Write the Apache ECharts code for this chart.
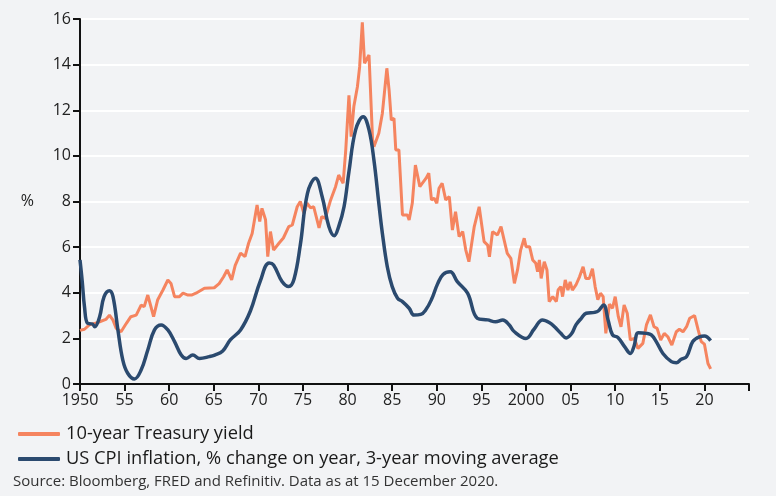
<!DOCTYPE html>
<html>
<head>
<meta charset="utf-8">
<script src="https://cdn.jsdelivr.net/npm/echarts@6/dist/echarts.min.js"></script>
<style>
html,body{margin:0;padding:0;background:#f2f3f5;}
#c{width:776px;height:496px;}
</style>
</head>
<body>
<div id="c"></div>
<script>
// 10-year Treasury yield (%)
var tyYears = [1950.0,1950.5,1951.05,1951.6,1952.2,1952.9,1953.3,1953.7,1954.05,1954.6,1955.2,1955.7,1956.3,1956.85,1957.2,1957.6,1958.0,1958.25,1958.7,1959.3,1959.85,1960.2,1960.6,1961.15,1961.55,1962.1,1962.5,1963.0,1963.95,1965.05,1965.6,1966.1,1966.5,1967.0,1967.4,1968.0,1968.5,1968.9,1969.3,1969.85,1970.15,1970.4,1970.8,1971.05,1971.35,1971.7,1972.3,1972.8,1973.4,1973.8,1974.35,1974.7,1975.1,1975.45,1975.85,1976.2,1976.8,1977.1,1977.5,1978.1,1978.65,1979.0,1979.5,1979.8,1980.15,1980.4,1980.7,1981.1,1981.35,1981.65,1981.9,1982.4,1982.8,1982.95,1983.5,1983.9,1984.4,1984.65,1984.9,1985.2,1985.4,1985.75,1986.15,1986.7,1986.9,1987.25,1987.6,1988.1,1988.8,1989.1,1989.4,1989.7,1990.0,1990.25,1990.6,1991.0,1991.4,1991.75,1992.1,1992.5,1992.9,1993.25,1993.6,1994.2,1994.75,1994.9,1995.3,1995.7,1995.9,1996.25,1996.8,1997.2,1997.55,1997.9,1998.3,1998.7,1999.05,1999.4,1999.8,2000.0,2000.4,2000.75,2001.1,2001.3,2001.5,2001.7,2002.05,2002.35,2002.6,2003.0,2003.4,2003.6,2003.9,2004.1,2004.4,2004.7,2004.95,2005.2,2005.6,2006.0,2006.4,2006.7,2007.1,2007.45,2007.75,2008.05,2008.35,2008.65,2008.95,2009.35,2009.7,2010.0,2010.35,2010.65,2011.0,2011.35,2011.7,2012.15,2012.55,2013.1,2013.5,2013.95,2014.35,2014.7,2015.1,2015.5,2015.9,2016.35,2016.85,2017.2,2017.6,2018.0,2018.35,2018.9,2019.3,2019.65,2020.0,2020.4,2020.7];
var tyValues = [2.35,2.4,2.59,2.65,2.73,2.83,3.02,2.8,2.44,2.29,2.66,2.95,3.02,3.46,3.39,3.9,3.32,2.95,3.68,4.12,4.56,4.41,3.83,3.83,3.98,3.9,3.9,3.98,4.2,4.22,4.4,4.7,5.0,4.56,5.2,5.74,5.58,6.17,6.6,7.85,7.12,7.7,7.2,5.58,6.68,5.87,6.17,6.4,6.9,6.97,7.77,8.0,7.48,7.93,7.72,7.77,6.84,7.34,7.26,8.07,8.65,9.16,8.8,10.3,12.65,10.84,12.16,13.03,13.9,15.85,14.06,14.42,10.7,10.4,10.99,11.87,13.84,12.89,11.57,11.65,10.26,10.26,7.41,7.41,7.19,7.92,9.6,8.65,9.02,9.24,8.07,8.14,7.92,8.58,8.8,8.07,8.21,6.75,7.55,6.46,6.68,5.87,5.36,6.9,7.77,7.85,6.24,6.09,5.58,6.68,6.53,6.9,6.31,5.73,5.51,4.41,5.0,5.87,6.39,6.02,6.02,5.44,5.29,4.92,5.44,4.63,5.36,5.0,3.61,3.83,3.61,4.12,4.27,3.83,4.56,4.12,4.48,4.12,4.34,4.7,5.14,4.63,4.63,5.05,4.27,3.7,3.98,3.83,2.22,3.5,3.32,3.83,2.95,2.51,3.46,3.1,1.93,2.0,1.56,1.78,2.59,3.03,2.51,2.44,1.93,2.22,2.07,1.71,2.29,2.4,2.29,2.51,2.88,3.0,2.37,1.86,1.75,0.9,0.66];

// US CPI inflation, % change on year, 3-year moving average
var cpiYears = [1950.0,1950.25,1950.5,1950.85,1951.4,1951.65,1952.2,1952.7,1953.3,1953.7,1954.25,1954.8,1955.35,1956.1,1956.85,1957.6,1958.35,1959.1,1959.85,1960.6,1961.35,1961.9,1962.65,1963.4,1964.5,1965.1,1966.0,1966.85,1968.0,1969.1,1970.2,1971.2,1971.7,1972.65,1973.4,1974.0,1974.7,1975.5,1976.4,1977.15,1977.9,1978.5,1979.0,1979.6,1980.15,1980.9,1981.75,1982.4,1982.95,1983.5,1983.9,1984.45,1985.0,1985.6,1986.15,1986.9,1987.45,1988.2,1988.75,1989.4,1990.1,1990.7,1991.5,1992.3,1993.45,1994.55,1995.7,1996.6,1997.4,1998.1,1998.7,2000.0,2000.9,2001.85,2002.6,2003.2,2003.9,2004.5,2005.1,2005.6,2006.2,2006.75,2007.7,2008.1,2008.7,2009.2,2009.7,2010.3,2011.05,2011.7,2012.1,2012.6,2013.5,2014.05,2014.6,2015.35,2016.3,2016.85,2017.4,2018.0,2018.7,2019.45,2020.0,2020.7];
var cpiValues = [5.44,4.5,3.4,2.66,2.63,2.51,2.95,3.83,4.09,3.83,2.37,1.05,0.47,0.22,0.61,1.49,2.37,2.59,2.37,1.86,1.27,1.12,1.27,1.12,1.2,1.27,1.45,1.93,2.37,3.2,4.5,5.3,5.22,4.49,4.27,4.6,6.1,8.36,9.02,8.21,6.9,6.5,6.9,7.77,9.3,11.14,11.72,11.14,9.82,7.92,6.6,5.14,4.27,3.76,3.61,3.32,3.02,3.05,3.24,3.7,4.4,4.8,4.92,4.49,3.98,2.88,2.81,2.73,2.81,2.6,2.29,2.0,2.4,2.81,2.7,2.51,2.22,2.02,2.2,2.59,2.88,3.1,3.14,3.2,3.46,2.81,2.15,2.04,1.64,1.34,1.64,2.25,2.22,2.15,1.86,1.34,0.98,0.93,1.08,1.2,1.86,2.07,2.1,1.9];

var seriesNames = ['10-year Treasury yield', 'US CPI inflation, % change on year, 3-year moving average'];
var sourceText = 'Source: Bloomberg, FRED and Refinitiv. Data as at 15 December 2020.';

function zip(xs, ys){ return xs.map(function(x,i){ return [x, ys[i]]; }); }

var FONT = 'Open Sans';
var chart = echarts.init(document.getElementById('c'));
chart.setOption({
  backgroundColor: '#f2f3f5',
  animation: false,
  textStyle: { fontFamily: FONT },
  grid: { left: 80, right: 27, top: 19, bottom: 112, containLabel: false },
  xAxis: {
    type: 'value', min: 1950, max: 2025, interval: 5,
    axisLine: { show: true, lineStyle: { color: '#111', width: 2 } },
    axisTick: { show: true, length: 7, lineStyle: { color: '#111', width: 2 } },
    splitLine: { show: false },
    axisLabel: {
      color: '#222', fontSize: 16, margin: 8, fontFamily: FONT,
      formatter: function(v){
        if (v === 2025) return '';
        if (v === 1950 || v === 2000) return String(v);
        return String(v).slice(2);
      }
    }
  },
  yAxis: {
    type: 'value', min: 0, max: 16, interval: 2,
    name: '%', nameLocation: 'middle', nameRotate: 0, nameGap: 46,
    nameTextStyle: { color: '#222', fontSize: 16, fontFamily: FONT },
    axisLine: { show: true, lineStyle: { color: '#111', width: 2 } },
    axisTick: { show: true, length: 7, lineStyle: { color: '#111', width: 2 } },
    splitLine: { show: true, lineStyle: { color: '#ffffff', width: 2 } },
    axisLabel: { color: '#222', fontSize: 16, margin: 9, fontFamily: FONT }
  },
  legend: {
    orient: 'vertical', left: 13, top: 420, itemGap: 7,
    itemWidth: 42, itemHeight: 4, icon: 'roundRect',
    textStyle: { color: '#1a1a1a', fontSize: 18.3, fontFamily: FONT, padding: [0,0,0,1] },
    data: seriesNames
  },
  series: [
    {
      name: seriesNames[0], type: 'line', data: zip(tyYears, tyValues),
      showSymbol: false, symbol: 'none', smooth: false,
      lineStyle: { color: '#f5845f', width: 3 }, itemStyle: { color: '#f5845f' }, z: 3
    },
    {
      name: seriesNames[1], type: 'line', data: zip(cpiYears, cpiValues),
      showSymbol: false, symbol: 'none', smooth: 0.4,
      lineStyle: { color: '#2b4a6f', width: 3.5 }, itemStyle: { color: '#2b4a6f' }, z: 4
    }
  ],
  graphic: [{
    type: 'text', left: 13, top: 474,
    style: { text: sourceText, fill: '#333', font: '15px "' + FONT + '"' }
  }]
});
</script>
</body>
</html>
